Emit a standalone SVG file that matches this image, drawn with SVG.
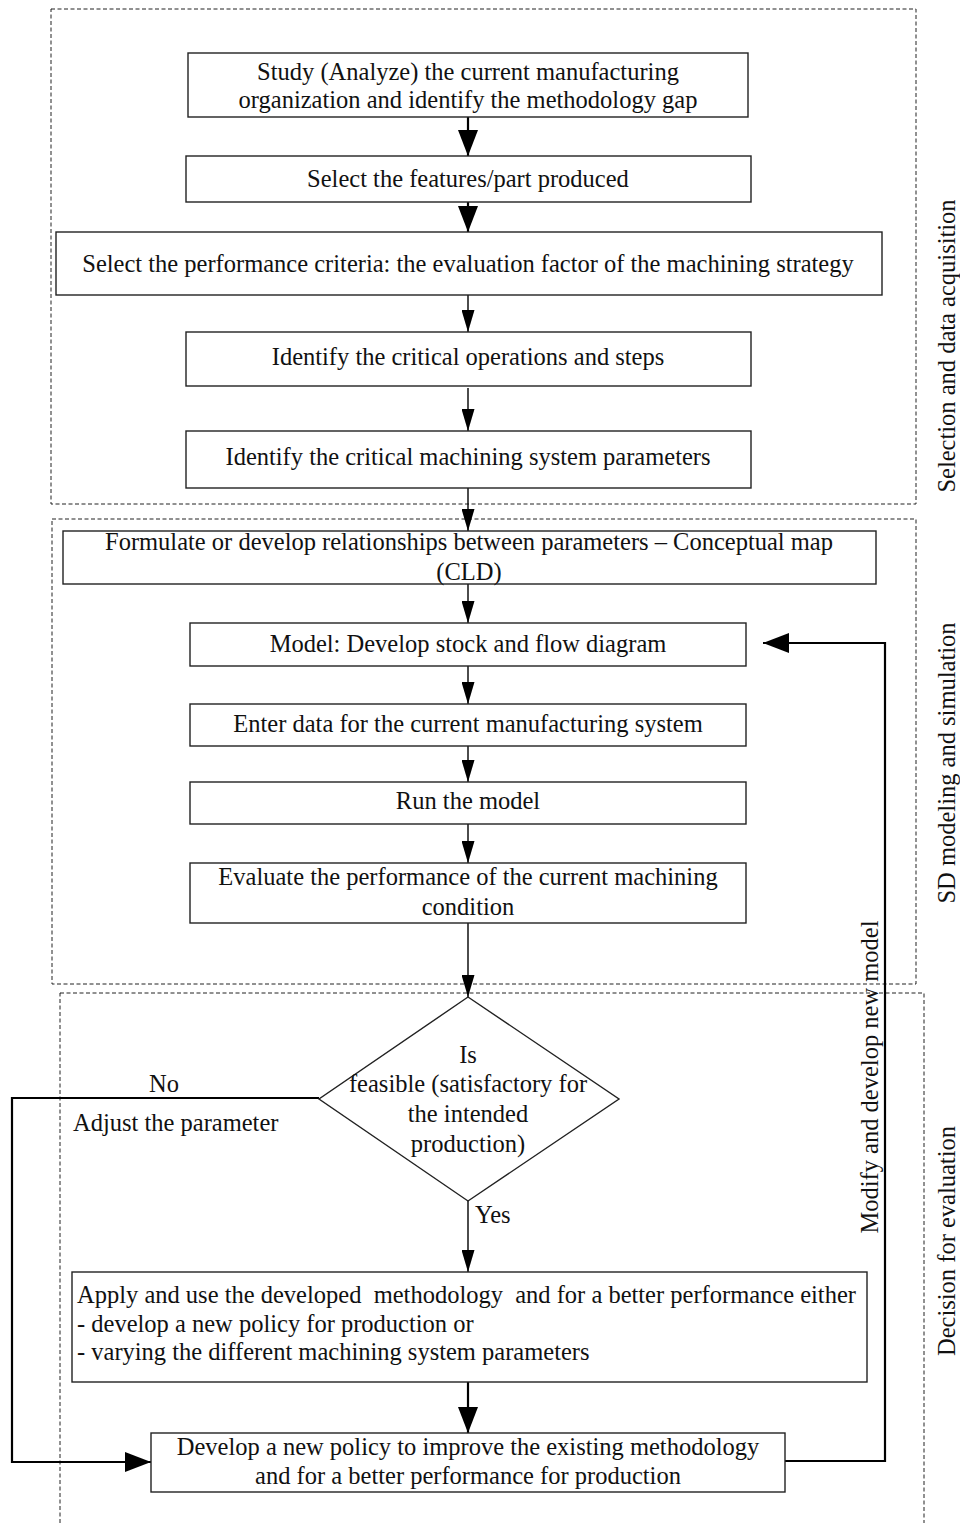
<svg xmlns="http://www.w3.org/2000/svg" width="960" height="1523" viewBox="0 0 960 1523">
<style>
.region{fill:none;stroke:#222;stroke-width:1;stroke-dasharray:4,2.5}
.box{fill:#fff;stroke:#222;stroke-width:1.4}
.t{font-family:"Liberation Serif","Times New Roman",serif;font-size:24.5px;fill:#111}
.c{text-anchor:middle}
.ln{fill:none;stroke:#000;stroke-width:1.4}
.lnb{fill:none;stroke:#000;stroke-width:2.2}
</style>
<defs>
<marker id="big" markerUnits="userSpaceOnUse" markerWidth="27" markerHeight="20" refX="26" refY="10" orient="auto" viewBox="0 0 27 20"><path d="M0,0 L26,10 L0,20 z" fill="#000"/></marker>
<marker id="small" markerUnits="userSpaceOnUse" markerWidth="23" markerHeight="13" refX="22" refY="6.5" orient="auto" viewBox="0 0 23 13"><path d="M0,0 L22,6.5 L0,13 z" fill="#000"/></marker>
</defs>

<g id="regions">
<rect id="region-selection" class="region" x="51" y="9" width="865" height="495"/>
<rect id="region-sd" class="region" x="52" y="519" width="864" height="465"/>
<rect id="region-decision" class="region" x="60" y="993" width="864" height="545"/>
</g>

<g id="connectors">
<line class="lnb" x1="468" y1="117" x2="468" y2="156" marker-end="url(#big)"/>
<line class="lnb" x1="468" y1="202" x2="468" y2="232" marker-end="url(#big)"/>
<line class="ln" x1="468" y1="295" x2="468" y2="332" marker-end="url(#small)"/>
<line class="ln" x1="468" y1="388" x2="468" y2="431" marker-end="url(#small)"/>
<line class="ln" x1="468" y1="488" x2="468" y2="531" marker-end="url(#small)"/>
<line class="ln" x1="468" y1="584" x2="468" y2="623" marker-end="url(#small)"/>
<line class="ln" x1="468" y1="666" x2="468" y2="704" marker-end="url(#small)"/>
<line class="ln" x1="468" y1="746" x2="468" y2="782" marker-end="url(#small)"/>
<line class="ln" x1="468" y1="824" x2="468" y2="863" marker-end="url(#small)"/>
<line class="ln" x1="468" y1="923" x2="468" y2="997" marker-end="url(#small)"/>
<line class="ln" x1="468" y1="1201" x2="468" y2="1272" marker-end="url(#small)"/>
<line class="lnb" x1="468" y1="1382" x2="468" y2="1433" marker-end="url(#big)"/>
<polyline class="lnb" points="319,1098 12,1098 12,1462 151,1462" marker-end="url(#big)"/>
<polyline class="lnb" points="785,1461 885,1461 885,643 763,643" marker-end="url(#big)"/>
</g>

<g id="n1"><rect class="box" x="188" y="53" width="560" height="64"/>
<text class="t c" x="468" y="80">Study (Analyze) the current manufacturing</text>
<text class="t c" x="468" y="108">organization and identify the methodology gap</text></g>

<g id="n2"><rect class="box" x="186" y="156" width="565" height="46"/>
<text class="t c" x="468" y="186.5">Select the features/part produced</text></g>

<g id="n3"><rect class="box" x="56" y="232" width="826" height="63"/>
<text class="t c" x="468" y="271.5">Select the performance criteria: the evaluation factor of the machining strategy</text></g>

<g id="n4"><rect class="box" x="186" y="332" width="565" height="54"/>
<text class="t c" x="468" y="365">Identify the critical operations and steps</text></g>

<g id="n5"><rect class="box" x="186" y="431" width="565" height="57"/>
<text class="t c" x="468" y="465">Identify the critical machining system parameters</text></g>

<g id="n6"><rect class="box" x="63" y="531" width="813" height="53"/>
<text class="t c" x="469" y="550">Formulate or develop relationships between parameters – Conceptual map</text>
<text class="t c" x="469" y="580">(CLD)</text></g>

<g id="n7"><rect class="box" x="190" y="623" width="556" height="43"/>
<text class="t c" x="468" y="652">Model: Develop stock and flow diagram</text></g>

<g id="n8"><rect class="box" x="190" y="704" width="556" height="42"/>
<text class="t c" x="468" y="732">Enter data for the current manufacturing system</text></g>

<g id="n9"><rect class="box" x="190" y="782" width="556" height="42"/>
<text class="t c" x="468" y="809">Run the model</text></g>

<g id="n10"><rect class="box" x="190" y="863" width="556" height="60"/>
<text class="t c" x="468" y="885">Evaluate the performance of the current machining</text>
<text class="t c" x="468" y="915">condition</text></g>

<g id="decision"><polygon class="box" points="468,997 619,1099 468,1201 319,1099" stroke-width="1.2"/>
<text class="t c" x="468" y="1063">Is</text>
<text class="t c" x="468" y="1092">feasible (satisfactory for</text>
<text class="t c" x="468" y="1122">the intended</text>
<text class="t c" x="468" y="1152">production)</text></g>

<g id="n11"><rect class="box" x="72" y="1272" width="795" height="110"/>
<text class="t" x="77" y="1303" xml:space="preserve">Apply and use the developed  methodology  and for a better performance either</text>
<text class="t" x="77" y="1332">- develop a new policy for production or</text>
<text class="t" x="77" y="1360">- varying the different machining system parameters</text></g>

<g id="n12"><rect class="box" x="151" y="1433" width="634" height="59"/>
<text class="t c" x="468" y="1455">Develop a new policy to improve the existing methodology</text>
<text class="t c" x="468" y="1484">and for a better performance for production</text></g>

<g id="labels">
<text class="t c" x="164" y="1092">No</text>
<text class="t" x="73" y="1131">Adjust the parameter</text>
<text class="t" x="475" y="1223">Yes</text>
<text class="t c" transform="translate(878,1077) rotate(-90)">Modify and develop new model</text>
<text class="t c" transform="translate(955,346) rotate(-90)">Selection and data acquisition</text>
<text class="t c" transform="translate(955,763) rotate(-90)">SD modeling and simulation</text>
<text class="t c" transform="translate(955,1241) rotate(-90)">Decision for evaluation</text>
</g>
</svg>
